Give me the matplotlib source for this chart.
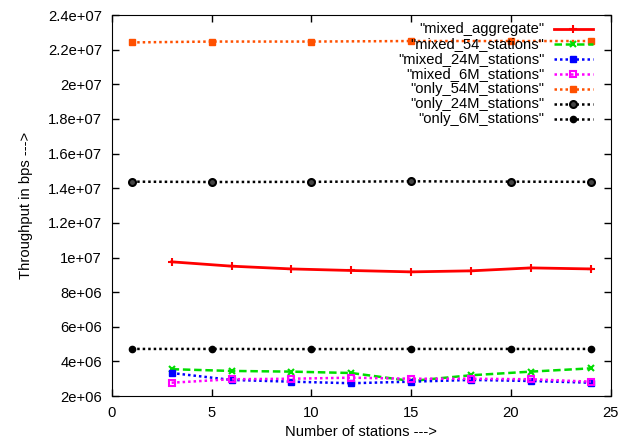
import matplotlib
matplotlib.use('Agg')
import matplotlib.pyplot as plt
from matplotlib.lines import Line2D
from matplotlib.ticker import FuncFormatter

plt.rcParams['font.family'] = ['Liberation Sans', 'DejaVu Sans']
plt.rcParams['font.size'] = 10.6

# 数据
x_mixed = [3, 6, 9, 12, 15, 18, 21, 24]
x_only = [1, 5, 10, 15, 20, 24]

mixed_aggregate = [9.75e6, 9.50e6, 9.34e6, 9.25e6, 9.17e6, 9.23e6, 9.40e6, 9.34e6]
mixed_54_stations = [3.55e6, 3.45e6, 3.41e6, 3.33e6, 2.87e6, 3.20e6, 3.41e6, 3.60e6]
mixed_24M_stations = [3.33e6, 2.93e6, 2.83e6, 2.74e6, 2.83e6, 2.93e6, 2.87e6, 2.77e6]
mixed_6M_stations = [2.77e6, 2.97e6, 3.00e6, 3.06e6, 3.00e6, 3.00e6, 2.97e6, 2.83e6]
only_54M_stations = [22.42e6, 22.47e6, 22.47e6, 22.5e6, 22.5e6, 22.5e6]
only_24M_stations = [14.38e6, 14.36e6, 14.37e6, 14.40e6, 14.38e6, 14.37e6]
only_6M_stations = [4.72e6, 4.72e6, 4.71e6, 4.72e6, 4.72e6, 4.72e6]

dot = (0, (1, 1.2))
series = [
    ('"mixed_aggregate"', x_mixed, mixed_aggregate,
     dict(color='#ff0000', ls='-', lw=2, marker='+', ms=5.5, mew=1.5)),
    ('"mixed_54_stations"', x_mixed, mixed_54_stations,
     dict(color='#00dd00', ls=(0, (3, 1.5)), lw=1.8, marker='x', ms=4.5, mew=1.5)),
    ('"mixed_24M_stations"', x_mixed, mixed_24M_stations,
     dict(color='#0000ff', ls=dot, lw=1.8, marker='s', ms=4, mew=1)),
    ('"mixed_6M_stations"', x_mixed, mixed_6M_stations,
     dict(color='#ff00ff', ls=dot, lw=1.8, marker='s', ms=5, mew=1.5, mfc='none')),
    ('"only_54M_stations"', x_only, only_54M_stations,
     dict(color='#ff5000', ls=dot, lw=1.8, marker='s', ms=5, mew=1)),
    ('"only_24M_stations"', x_only, only_24M_stations,
     dict(color='#000000', ls=dot, lw=1.8, marker='o', ms=5, mew=1.5, mfc='#444444')),
    ('"only_6M_stations"', x_only, only_6M_stations,
     dict(color='#000000', ls=dot, lw=1.8, marker='o', ms=4.5, mew=1)),
]

fig = plt.figure(figsize=(6.44, 4.43), dpi=100)
ax = fig.add_axes([0.1735, 0.106, 0.775, 0.86])

for label, xs, ys, st in series:
    ax.plot(xs, ys, **st)

ax.set_xlim(0, 25)
ax.set_ylim(2e6, 2.4e7)
ax.set_xticks(range(0, 26, 5))
ax.set_yticks([i * 2e6 for i in range(1, 13)])
ax.yaxis.set_major_formatter(FuncFormatter(lambda v, p: '%g' % v))
ax.tick_params(direction='in', length=5, width=1, top=True, right=True, pad=7)
ax.set_xlabel('Number of stations --->', labelpad=4)
ax.set_ylabel('Throughput in bps --->', labelpad=11)

# 图例（gnuplot 风格：文字右对齐，样例在右）
y0 = 0.963
dy = 0.0395
for i, (label, xs, ys, st) in enumerate(series):
    y = y0 - i * dy
    ax.text(0.867, y, label, transform=ax.transAxes, ha='right', va='center')
    ln = Line2D([0.886, 0.964], [y, y], transform=ax.transAxes,
                color=st['color'], ls=st['ls'], lw=st['lw'])
    mk = Line2D([0.925], [y], transform=ax.transAxes, color=st['color'],
                marker=st['marker'], ms=st['ms'], mew=st['mew'],
                mfc=st.get('mfc', st['color']), ls='none')
    ax.add_line(ln)
    ax.add_line(mk)

fig.savefig('out.png', dpi=100)
